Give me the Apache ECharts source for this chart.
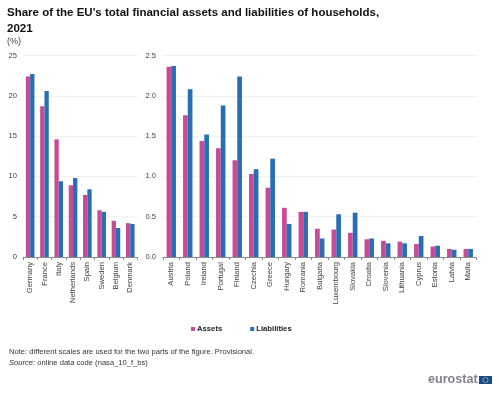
<!DOCTYPE html>
<html><head><meta charset="utf-8">
<style>html,body{margin:0;padding:0;background:#fff}#c{width:500px;height:393px}</style>
<script src="https://cdn.jsdelivr.net/npm/echarts@6/dist/echarts.min.js"></script>
</head><body><div id="c"></div>
<script>
const catsLarge = ['Germany','France','Italy','Netherlands','Spain','Sweden','Belgium','Denmark'];
const assetsLarge = [22.4,18.7,14.6,8.9,7.7,5.8,4.5,4.2];
const liabilitiesLarge = [22.7,20.6,9.4,9.8,8.4,5.6,3.6,4.1];
const catsSmall = ['Austria','Poland','Ireland','Portugal','Finland','Czechia','Greece','Hungary','Romania','Bulgaria','Luxembourg','Slovakia','Croatia','Slovenia','Lithuania','Cyprus','Estonia','Latvia','Malta'];
const assetsSmall = [2.36,1.76,1.44,1.35,1.20,1.03,0.86,0.61,0.56,0.35,0.34,0.30,0.22,0.20,0.19,0.16,0.13,0.10,0.10];
const liabilitiesSmall = [2.37,2.08,1.52,1.88,2.24,1.09,1.22,0.41,0.56,0.23,0.53,0.55,0.23,0.17,0.17,0.26,0.14,0.09,0.10];
const FONT = '"Liberation Sans", Arial, sans-serif';
const PINK = '#c84b96', BLUE = '#286eb4', TXT = '#404040';
const chart = echarts.init(document.getElementById('c'), null, {renderer:'canvas'});
const xAxis = (i,data)=>({type:'category',gridIndex:i,data,
  axisLine:{lineStyle:{color:'#8c8c8c',width:1}},
  axisTick:{show:true,length:3,lineStyle:{color:'#8c8c8c'},alignWithLabel:false},
  axisLabel:{rotate:90,interval:0,fontSize:7.6,color:TXT,fontFamily:FONT,margin:5}});
const yAxis = (i,max,step,fmt)=>({type:'value',gridIndex:i,min:0,max,interval:step,
  axisLine:{show:false},axisTick:{show:false},
  splitLine:{lineStyle:{color:'#f2f2f2',width:1}},
  axisLabel:{fontSize:7.6,color:TXT,fontFamily:FONT,margin:i===0?6:7,formatter:fmt}});
const bar = (name,color,data,i,w)=>({type:'bar',name,data,xAxisIndex:i,yAxisIndex:i,barWidth:w,barGap:'0%',itemStyle:{color},animation:false});
chart.setOption({
  animation:false,
  backgroundColor:'#fff',
  textStyle:{fontFamily:FONT},
  title:[
    {text:"Share of the EU's total financial assets and liabilities of households,\n2021",left:7,top:5,padding:0,
     textStyle:{fontSize:11.5,fontWeight:'bold',color:'#111',fontFamily:FONT,lineHeight:16}},
    {text:'(%)',left:7,top:37.5,padding:0,textStyle:{fontSize:9,fontWeight:'normal',color:TXT,fontFamily:FONT}},
    {text:'Note: different scales are used for the two parts of the figure. Provisional.\n{i|Source:} online data code (nasa_10_f_bs)',
     left:9,top:346,padding:0,
     textStyle:{fontSize:7.6,fontWeight:'normal',color:'#333',fontFamily:FONT,lineHeight:11,
       rich:{i:{fontStyle:'italic',fontSize:7.6,color:'#333',fontFamily:FONT,lineHeight:11}}}}
  ],
  legend:{left:191,top:325,itemWidth:4,itemHeight:4,itemGap:28,icon:'rect',padding:0,
    data:['Assets','Liabilities'],
    textStyle:{fontSize:7.7,fontWeight:'bold',color:'#222',fontFamily:FONT,padding:[0,0,0,-3]}},
  grid:[
    {left:23,top:55.5,width:114.4,height:201.5},
    {left:163,top:55.5,width:313.5,height:201.5}
  ],
  xAxis:[xAxis(0,catsLarge),xAxis(1,catsSmall)],
  yAxis:[yAxis(0,25,5,v=>String(v)),yAxis(1,2.5,0.5,v=>v.toFixed(1))],
  series:[
    bar('Assets',PINK,assetsLarge,0,4.3),
    bar('Liabilities',BLUE,liabilitiesLarge,0,4.3),
    bar('Assets',PINK,assetsSmall,1,4.7),
    bar('Liabilities',BLUE,liabilitiesSmall,1,4.7)
  ],
  graphic:[
    {type:'text',left:428,top:373,style:{text:'eurostat',fontSize:12.6,fontWeight:'bold',fill:'#80858b',fontFamily:FONT}},
    {type:'rect',left:479,top:376,shape:{width:13,height:8},style:{fill:'#0f4a96'}},
    {type:'circle',shape:{cx:485.5,cy:380,r:2.6},style:{fill:'none',stroke:'#c9b93a',lineWidth:0.8}}
  ]
});
</script></body></html>
